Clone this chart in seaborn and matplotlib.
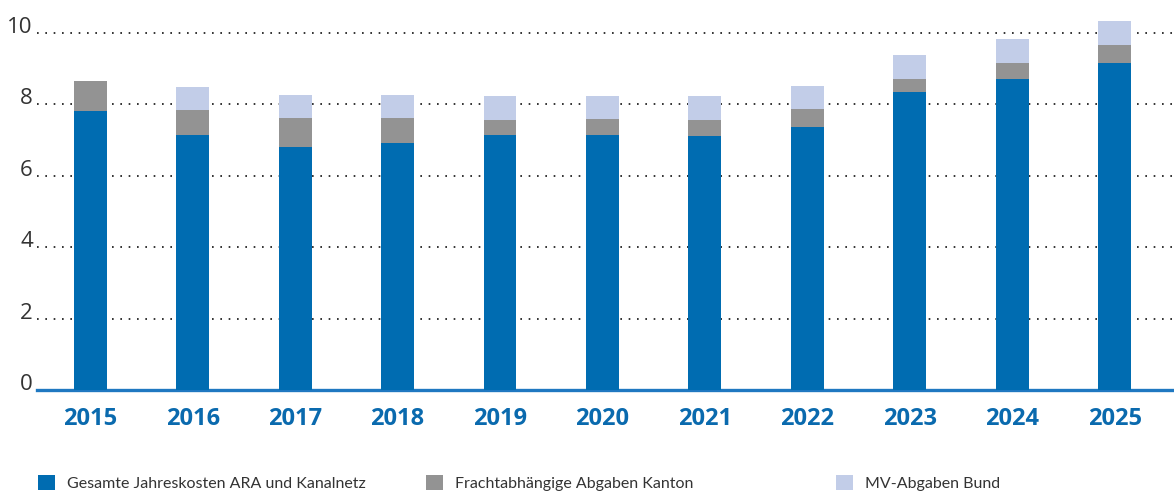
import matplotlib
matplotlib.use("Agg")
import matplotlib.pyplot as plt
from matplotlib.patches import Patch
import pandas as pd
import seaborn as sns

YEARS = ["2015", "2016", "2017", "2018", "2019", "2020",
         "2021", "2022", "2023", "2024", "2025"]
ARA_KANAL = [7.82, 7.14, 6.81, 6.92, 7.14, 7.14, 7.11, 7.37, 8.35, 8.71, 9.16]
FRACHT_KANTON = [0.84, 0.70, 0.81, 0.70, 0.42, 0.45, 0.45, 0.50, 0.36, 0.45, 0.50]
MV_BUND = [0.00, 0.65, 0.64, 0.64, 0.68, 0.65, 0.68, 0.65, 0.67, 0.67, 0.68]
Y_TICKS = [0, 2, 4, 6, 8, 10]

LABELS = [
    "Gesamte Jahreskosten ARA und Kanalnetz",
    "Frachtabhängige Abgaben Kanton",
    "MV-Abgaben Bund",
]
COLORS = ["#006cb1", "#939393", "#c2cde8"]
AXIS_BLUE = "#1f78c1"

df = pd.DataFrame({
    "Jahr": YEARS,
    "ara": ARA_KANAL,
    "fracht": FRACHT_KANTON,
    "mv": MV_BUND,
})
# cumulative heights, drawn back to front to get a stacked look
df["top_fracht"] = df["ara"] + df["fracht"]
df["top_mv"] = df["top_fracht"] + df["mv"]

plt.rcParams["font.family"] = ["Open Sans", "DejaVu Sans"]

fig = plt.figure(figsize=(11.74, 4.92), dpi=100)
ax = fig.add_axes([37 / 1174, 102 / 492, 1 - 37 / 1174, 375 / 492])

bar_w = 0.32
for col, color in zip(["top_mv", "top_fracht", "ara"], COLORS[::-1]):
    sns.barplot(data=df, x="Jahr", y=col, color=color, saturation=1,
                width=bar_w, ax=ax, zorder=3)

ax.set_xlim(-0.52, 10.58)
ax.set_ylim(0, 10.5)
ax.set_yticks(Y_TICKS)
ax.set_xlabel("")
ax.set_ylabel("")

ax.yaxis.grid(True, linestyle=(0, (1, 4)), color="#111111", linewidth=1.2, zorder=0)
ax.set_axisbelow(True)

for side in ["top", "right", "left"]:
    ax.spines[side].set_visible(False)
ax.spines["bottom"].set_color(AXIS_BLUE)
ax.spines["bottom"].set_linewidth(2.4)
ax.spines["bottom"].set_zorder(2)

ax.tick_params(axis="y", length=0, pad=3, labelsize=16, labelcolor="#333333")
ax.tick_params(axis="x", length=0, pad=12, labelsize=17, labelcolor="#0a6aae")
for lab in ax.get_yticklabels():
    lab.set_verticalalignment("baseline")
for lab in ax.get_xticklabels():
    lab.set_fontweight("bold")

# legend entries placed one by one
legend_x = [27 / 1174, 415 / 1174, 825 / 1174]
for label, color, lx in zip(LABELS, COLORS, legend_x):
    leg = fig.legend(handles=[Patch(facecolor=color, edgecolor="none")],
                     labels=[label], loc="lower left",
                     bbox_to_anchor=(lx, -0.02), frameon=False,
                     prop={"family": ["Lato", "DejaVu Sans"], "size": 11.5},
                     handlelength=1.05, handleheight=1.05,
                     handletextpad=0.75, borderpad=0.2)
    for t in leg.get_texts():
        t.set_color("#333333")

fig.savefig("out.png", dpi=100)
